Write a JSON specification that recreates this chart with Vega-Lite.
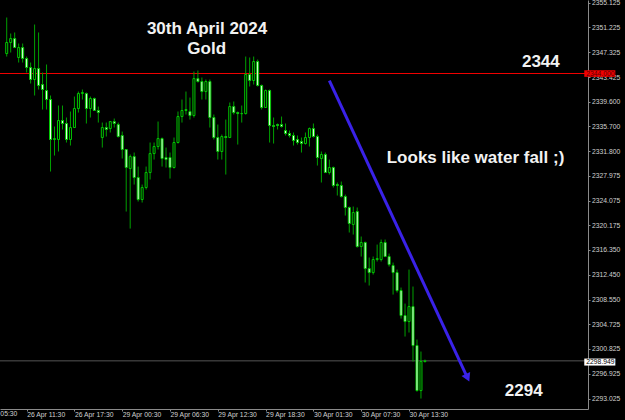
{
 "$schema": "https://vega.github.io/schema/vega-lite/v6.json",
 "width": 588, "height": 409,
 "autosize": {"type": "none"},
 "padding": {"left": 0, "top": 0, "right": 37, "bottom": 11},
 "background": "#000000",
 "config": {"view": {"stroke": null}, "axis": {"grid": false, "domainColor": "#8a8a8a", "tickColor": "#8a8a8a", "labelColor": "#d0d0d0", "labelFont": "Liberation Sans", "labelFontSize": 6.8, "tickSize": 2, "labelOverlap": false, "labelFlush": false}},
 "datasets": {"candles": [
{"i":0,"o":2347.13,"h":2352.78,"l":2346.66,"c":2348.86},
{"i":1,"o":2348.86,"h":2350.27,"l":2347.29,"c":2349.48},
{"i":2,"o":2349.48,"h":2350.43,"l":2348.07,"c":2348.07},
{"i":3,"o":2346.51,"h":2348.70,"l":2345.72,"c":2348.07},
{"i":4,"o":2348.07,"h":2348.70,"l":2345.72,"c":2346.35},
{"i":5,"o":2346.35,"h":2346.66,"l":2344.15,"c":2344.94},
{"i":6,"o":2344.94,"h":2345.72,"l":2342.43,"c":2343.06},
{"i":7,"o":2343.06,"h":2351.68,"l":2340.55,"c":2344.78},
{"i":8,"o":2344.78,"h":2350.43,"l":2341.49,"c":2342.12},
{"i":9,"o":2342.27,"h":2344.15,"l":2338.35,"c":2341.49},
{"i":10,"o":2341.33,"h":2345.41,"l":2338.35,"c":2339.92},
{"i":11,"o":2339.92,"h":2340.55,"l":2328.63,"c":2333.65},
{"i":12,"o":2333.65,"h":2335.69,"l":2331.14,"c":2333.80},
{"i":13,"o":2333.65,"h":2338.98,"l":2331.77,"c":2336.63},
{"i":14,"o":2336.63,"h":2338.98,"l":2335.22,"c":2336.16},
{"i":15,"o":2336.16,"h":2337.10,"l":2333.18,"c":2333.65},
{"i":16,"o":2333.65,"h":2338.04,"l":2332.71,"c":2335.53},
{"i":17,"o":2335.53,"h":2340.39,"l":2335.53,"c":2338.51},
{"i":18,"o":2338.51,"h":2341.17,"l":2337.88,"c":2340.86},
{"i":19,"o":2340.86,"h":2341.49,"l":2339.92,"c":2341.02},
{"i":20,"o":2340.86,"h":2341.02,"l":2336.16,"c":2338.51},
{"i":21,"o":2338.51,"h":2340.39,"l":2337.10,"c":2340.08},
{"i":22,"o":2340.08,"h":2340.23,"l":2338.20,"c":2338.20},
{"i":23,"o":2338.20,"h":2338.82,"l":2336.31,"c":2337.88},
{"i":24,"o":2333.96,"h":2336.31,"l":2332.39,"c":2335.53},
{"i":25,"o":2335.53,"h":2336.31,"l":2334.12,"c":2335.22},
{"i":26,"o":2335.37,"h":2336.47,"l":2334.75,"c":2336.47},
{"i":27,"o":2336.47,"h":2336.94,"l":2335.53,"c":2336.16},
{"i":28,"o":2336.00,"h":2336.31,"l":2333.96,"c":2334.12},
{"i":29,"o":2334.28,"h":2334.90,"l":2330.67,"c":2332.08},
{"i":30,"o":2332.08,"h":2332.08,"l":2322.36,"c":2329.26},
{"i":31,"o":2329.10,"h":2331.30,"l":2319.69,"c":2330.98},
{"i":32,"o":2330.98,"h":2331.61,"l":2326.59,"c":2327.69},
{"i":33,"o":2327.69,"h":2329.41,"l":2323.93,"c":2324.24},
{"i":34,"o":2324.24,"h":2326.59,"l":2323.77,"c":2326.12},
{"i":35,"o":2326.12,"h":2329.41,"l":2325.81,"c":2328.47},
{"i":36,"o":2328.47,"h":2333.18,"l":2327.38,"c":2331.45},
{"i":37,"o":2331.45,"h":2333.18,"l":2330.51,"c":2332.55},
{"i":38,"o":2332.55,"h":2336.47,"l":2332.08,"c":2333.80},
{"i":39,"o":2333.80,"h":2333.96,"l":2329.41,"c":2330.67},
{"i":40,"o":2330.83,"h":2332.39,"l":2329.26,"c":2330.51},
{"i":41,"o":2330.83,"h":2331.61,"l":2327.53,"c":2329.26},
{"i":42,"o":2329.26,"h":2333.96,"l":2329.10,"c":2333.18},
{"i":43,"o":2333.18,"h":2338.04,"l":2333.02,"c":2337.25},
{"i":44,"o":2337.25,"h":2339.92,"l":2336.31,"c":2338.20},
{"i":45,"o":2338.20,"h":2341.17,"l":2337.57,"c":2338.35},
{"i":46,"o":2338.04,"h":2340.23,"l":2336.78,"c":2337.41},
{"i":47,"o":2337.41,"h":2344.31,"l":2337.10,"c":2343.21},
{"i":48,"o":2343.21,"h":2344.47,"l":2342.59,"c":2342.74},
{"i":49,"o":2342.74,"h":2343.37,"l":2339.92,"c":2341.17},
{"i":50,"o":2341.17,"h":2343.06,"l":2339.92,"c":2342.74},
{"i":51,"o":2342.74,"h":2343.06,"l":2335.53,"c":2337.10},
{"i":52,"o":2337.10,"h":2337.57,"l":2333.65,"c":2333.96},
{"i":53,"o":2333.96,"h":2336.00,"l":2330.51,"c":2331.77},
{"i":54,"o":2331.77,"h":2334.43,"l":2330.51,"c":2334.12},
{"i":55,"o":2334.12,"h":2336.78,"l":2328.16,"c":2333.96},
{"i":56,"o":2333.96,"h":2339.45,"l":2333.96,"c":2338.82},
{"i":57,"o":2338.82,"h":2339.61,"l":2337.57,"c":2337.88},
{"i":58,"o":2337.88,"h":2338.04,"l":2332.86,"c":2337.72},
{"i":59,"o":2337.72,"h":2338.98,"l":2336.31,"c":2337.70},
{"i":60,"o":2337.72,"h":2346.66,"l":2337.57,"c":2343.84},
{"i":61,"o":2343.84,"h":2346.51,"l":2341.96,"c":2342.90},
{"i":62,"o":2342.90,"h":2346.66,"l":2342.27,"c":2345.88},
{"i":63,"o":2345.88,"h":2346.19,"l":2341.96,"c":2342.12},
{"i":64,"o":2342.12,"h":2342.27,"l":2338.35,"c":2338.67},
{"i":65,"o":2338.67,"h":2341.49,"l":2338.67,"c":2341.33},
{"i":66,"o":2341.33,"h":2341.49,"l":2333.18,"c":2335.84},
{"i":67,"o":2335.84,"h":2337.10,"l":2333.02,"c":2335.69},
{"i":68,"o":2336.00,"h":2336.16,"l":2335.22,"c":2335.84},
{"i":69,"o":2336.00,"h":2337.25,"l":2335.53,"c":2335.69},
{"i":70,"o":2335.06,"h":2336.16,"l":2334.28,"c":2334.59},
{"i":71,"o":2334.59,"h":2335.06,"l":2333.96,"c":2334.28},
{"i":72,"o":2334.28,"h":2334.75,"l":2332.71,"c":2333.49},
{"i":73,"o":2333.65,"h":2334.28,"l":2332.86,"c":2333.18},
{"i":74,"o":2333.33,"h":2333.96,"l":2331.61,"c":2333.02},
{"i":75,"o":2333.02,"h":2334.75,"l":2332.86,"c":2333.96},
{"i":76,"o":2333.96,"h":2335.53,"l":2332.55,"c":2335.37},
{"i":77,"o":2335.37,"h":2336.16,"l":2333.96,"c":2334.12},
{"i":78,"o":2334.12,"h":2334.43,"l":2329.57,"c":2330.83},
{"i":79,"o":2330.67,"h":2331.77,"l":2326.91,"c":2331.30},
{"i":80,"o":2331.30,"h":2331.61,"l":2328.47,"c":2328.47},
{"i":81,"o":2328.47,"h":2330.51,"l":2328.16,"c":2329.26},
{"i":82,"o":2329.26,"h":2329.41,"l":2326.12,"c":2326.44},
{"i":83,"o":2326.59,"h":2326.91,"l":2324.87,"c":2326.44},
{"i":84,"o":2326.44,"h":2327.06,"l":2324.55,"c":2324.71},
{"i":85,"o":2324.71,"h":2325.02,"l":2321.73,"c":2322.99},
{"i":86,"o":2322.99,"h":2323.14,"l":2319.07,"c":2320.48},
{"i":87,"o":2320.32,"h":2323.14,"l":2318.75,"c":2322.20},
{"i":88,"o":2322.36,"h":2322.99,"l":2316.71,"c":2316.87},
{"i":89,"o":2316.87,"h":2318.44,"l":2315.30,"c":2317.50},
{"i":90,"o":2317.50,"h":2317.65,"l":2311.23,"c":2313.42},
{"i":91,"o":2313.42,"h":2315.15,"l":2310.76,"c":2312.79},
{"i":92,"o":2312.79,"h":2315.30,"l":2312.48,"c":2314.83},
{"i":93,"o":2314.83,"h":2317.18,"l":2314.52,"c":2314.99},
{"i":94,"o":2314.83,"h":2317.97,"l":2314.52,"c":2317.50},
{"i":95,"o":2317.50,"h":2317.97,"l":2315.30,"c":2315.30},
{"i":96,"o":2315.30,"h":2315.77,"l":2313.73,"c":2314.05},
{"i":97,"o":2313.89,"h":2314.36,"l":2309.34,"c":2312.79},
{"i":98,"o":2312.79,"h":2313.26,"l":2309.66,"c":2309.97},
{"i":99,"o":2309.97,"h":2310.44,"l":2305.58,"c":2306.05},
{"i":100,"o":2306.05,"h":2307.93,"l":2302.76,"c":2305.11},
{"i":101,"o":2305.11,"h":2313.26,"l":2303.39,"c":2307.46},
{"i":102,"o":2307.46,"h":2310.60,"l":2298.84,"c":2301.35},
{"i":103,"o":2301.35,"h":2302.29,"l":2294.13,"c":2294.29},
{"i":104,"o":2294.29,"h":2300.41,"l":2293.04,"c":2298.84},
{"i":105,"o":2298.84,"h":2299.15,"l":2298.68,"c":2298.95}
 ]},
 "layer": [
  {
   "data": {"values": [{"lvl": 2344.0}]},
   "mark": {"type": "rule", "color": "#f00000", "strokeWidth": 1},
   "encoding": {
    "y": {"field": "lvl", "type": "quantitative", "title": null,
          "scale": {"domain": [2291.40, 2355.525], "nice": false, "zero": false},
          "axis": {"orient": "right", "format": ".3f", "labelPadding": 1.5, "labelBaseline": "middle", "tickCount": 40,
                   "values": [2355.125, 2351.225, 2347.325, 2343.425, 2339.6, 2335.7, 2331.8, 2327.975, 2324.075, 2320.175, 2316.35, 2312.45, 2308.55, 2304.725, 2300.825, 2296.925, 2293.025]}}
   }
  },
  {
   "data": {"values": [{"lvl": 2298.949}]},
   "mark": {"type": "rule", "color": "#555555", "strokeWidth": 1},
   "encoding": {"y": {"field": "lvl", "type": "quantitative", "title": null}}
  },
  {
   "data": {"name": "candles"},
   "mark": {"type": "rule", "color": "#00a000", "strokeWidth": 1},
   "encoding": {
    "x": {"field": "i", "type": "quantitative", "title": null,
          "scale": {"domain": [-0.43, 144.68], "nice": false, "zero": false},
          "axis": {"orient": "bottom", "values": [5, 17, 29, 41, 53, 65, 77, 89, 101], "tickCount": 40,
                   "labelExpr": "['26 Apr 11:30','26 Apr 17:30','29 Apr 00:30','29 Apr 06:30','29 Apr 12:30','29 Apr 18:30','30 Apr 01:30','30 Apr 07:30','30 Apr 13:30'][round((datum.value - 5) / 12)]",
                   "labelAlign": "left", "labelPadding": 0, "labelBound": false}},
    "y": {"field": "l", "type": "quantitative", "title": null},
    "y2": {"field": "h"}
   }
  },
  {
   "data": {"name": "candles"},
   "mark": {"type": "bar", "size": 2, "stroke": "#00c800", "strokeWidth": 1},
   "encoding": {
    "x": {"field": "i", "type": "quantitative", "title": null},
    "y": {"field": "o", "type": "quantitative", "title": null},
    "y2": {"field": "c"},
    "fill": {"condition": {"test": "datum.c < datum.o", "value": "#eaffea"}, "value": "#000000"}
   }
  },
  {
   "data": {"values": [{"ax": 81.0, "ap": 2342.90}, {"ax": 115.3, "ap": 2296.80}]},
   "mark": {"type": "line", "color": "#3a22e8", "strokeWidth": 3},
   "encoding": {
    "x": {"field": "ax", "type": "quantitative", "title": null},
    "y": {"field": "ap", "type": "quantitative", "title": null}
   }
  },
  {
   "data": {"values": [{"ax": 115.7, "ap": 2296.30}]},
   "mark": {"type": "point", "shape": "triangle-down", "filled": true, "opacity": 1, "color": "#3a22e8", "size": 90, "angle": 335},
   "encoding": {
    "x": {"field": "ax", "type": "quantitative", "title": null},
    "y": {"field": "ap", "type": "quantitative", "title": null}
   }
  },
  {
   "data": {"values": [
     {"tx": 50.3, "tp": 2351.05, "label": "30th April 2024"},
     {"tx": 50.2, "tp": 2347.92, "label": "Gold"},
     {"tx": 134.1, "tp": 2345.88, "label": "2344"},
     {"tx": 117.7, "tp": 2330.83, "label": "Looks like water fall ;)"},
     {"tx": 129.8, "tp": 2294.21, "label": "2294"}
   ]},
   "mark": {"type": "text", "color": "#f2f2f2", "font": "Liberation Sans", "fontWeight": "bold", "fontSize": 17, "align": "center", "baseline": "middle"},
   "encoding": {
    "x": {"field": "tx", "type": "quantitative", "title": null},
    "y": {"field": "tp", "type": "quantitative", "title": null},
    "text": {"field": "label"}
   }
  },
  {
   "data": {"values": [{"tx": -7, "tp": 2290.55, "label": "26 Apr 05:30"}]},
   "mark": {"type": "text", "color": "#d0d0d0", "font": "Liberation Sans", "fontSize": 6.8, "align": "left", "baseline": "middle"},
   "encoding": {
    "x": {"field": "tx", "type": "quantitative", "title": null},
    "y": {"field": "tp", "type": "quantitative", "title": null},
    "text": {"field": "label"}
   }
  },
  {
   "data": {"values": [{"x1": 145.0, "x2": 152.8, "p1": 2343.48, "p2": 2344.51}]},
   "mark": {"type": "rect", "color": "#f00000"},
   "encoding": {
    "x": {"field": "x1", "type": "quantitative", "title": null},
    "x2": {"field": "x2"},
    "y": {"field": "p1", "type": "quantitative", "title": null},
    "y2": {"field": "p2"}
   }
  },
  {
   "data": {"values": [{"x1": 145.0, "x2": 152.8, "p1": 2298.21, "p2": 2299.31}]},
   "mark": {"type": "rect", "color": "#ffffff"},
   "encoding": {
    "x": {"field": "x1", "type": "quantitative", "title": null},
    "x2": {"field": "x2"},
    "y": {"field": "p1", "type": "quantitative", "title": null},
    "y2": {"field": "p2"}
   }
  },
  {
   "data": {"values": [{"tx": 145.5, "tp": 2344.0, "label": "2344.000"}]},
   "mark": {"type": "text", "color": "#5a0000", "font": "Liberation Sans", "fontSize": 6.8, "align": "left", "baseline": "middle"},
   "encoding": {
    "x": {"field": "tx", "type": "quantitative", "title": null},
    "y": {"field": "tp", "type": "quantitative", "title": null},
    "text": {"field": "label"}
   }
  },
  {
   "data": {"values": [{"tx": 145.5, "tp": 2298.76, "label": "2298.949"}]},
   "mark": {"type": "text", "color": "#000000", "font": "Liberation Sans", "fontSize": 6.8, "align": "left", "baseline": "middle"},
   "encoding": {
    "x": {"field": "tx", "type": "quantitative", "title": null},
    "y": {"field": "tp", "type": "quantitative", "title": null},
    "text": {"field": "label"}
   }
  }
 ]
}
